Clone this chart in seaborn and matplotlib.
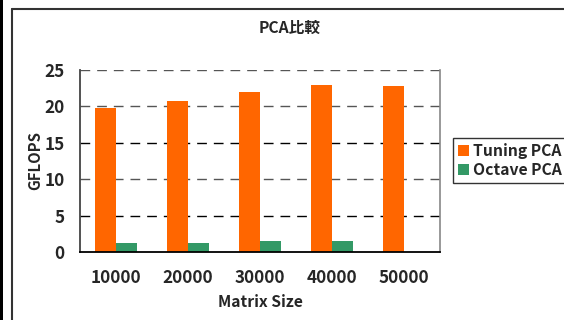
import numpy as np
import pandas as pd
import matplotlib
matplotlib.use("Agg")
import matplotlib.pyplot as plt
from matplotlib.lines import Line2D
from matplotlib.patches import Rectangle
import seaborn as sns

# Benchmark results (GFLOPS) per matrix size
sizes = ["10000", "20000", "30000", "40000", "50000"]
tuning_pca = [19.8, 20.7, 22.0, 22.9, 22.8]
octave_pca = [1.2, 1.2, 1.5, 1.5, np.nan]
series_names = ["Tuning PCA", "Octave PCA"]
colors = ["#FF6600", "#339966"]
y_ticks = [0, 5, 10, 15, 20, 25]

df = pd.DataFrame({
    "size": sizes * 2,
    "gflops": tuning_pca + octave_pca,
    "series": [series_names[0]] * len(sizes) + [series_names[1]] * len(sizes),
})

sns.set_theme(style="white")
plt.rcParams["font.family"] = ["Noto Sans CJK JP", "DejaVu Sans"]
plt.rcParams["font.weight"] = "bold"

W, H = 564, 320
fig = plt.figure(figsize=(W / 100, H / 100), dpi=100)
fig.patch.set_facecolor("white")

left, right, top, bottom = 80, 440, 70, 252
ax = fig.add_axes([left / W, 1 - bottom / H, (right - left) / W, (bottom - top) / H])

sns.barplot(data=df, x="size", y="gflops", hue="series", order=sizes,
            hue_order=series_names, palette=colors, width=0.58,
            saturation=1, linewidth=0, ax=ax, legend=False, errorbar=None)

ax.set_ylim(0, 25)
ax.set_xlim(-0.5, len(sizes) - 0.5)
ax.set_yticks(y_ticks)
ax.set_yticklabels([str(t) for t in y_ticks], fontsize=12.3, fontweight="bold")
ax.tick_params(axis="y", length=0, pad=11)

# category boundaries as inward ticks on the x axis
ax.set_xticks(np.arange(len(sizes)))
ax.set_xticklabels(sizes, fontsize=12.3, fontweight="bold")
ax.tick_params(axis="x", length=0, pad=12)
ax.set_xticks(np.arange(0.5, len(sizes) - 0.5, 1), minor=True)
ax.tick_params(axis="x", which="minor", direction="in", length=5, width=1, color="black")

for v in y_ticks[1:]:
    ax.axhline(v, color="#555555" if v in (10, 20, 25) else "black",
               lw=1, dashes=(7, 5), zorder=0)

ax.set_xlabel("Matrix Size", fontsize=11.3, fontweight="bold", labelpad=5)
ax.set_ylabel("GFLOPS", fontsize=10.8, fontweight="bold", labelpad=1)

for s in ax.spines.values():
    s.set_visible(True)
ax.spines["top"].set_visible(False)
ax.spines["left"].set_color("#444444")
ax.spines["left"].set_linewidth(1.3)
ax.spines["bottom"].set_color("black")
ax.spines["bottom"].set_linewidth(1.3)
ax.spines["right"].set_color("#888888")
ax.spines["right"].set_linewidth(1.2)

fig.text(290 / W, 1 - 28 / H, "PCA比較", ha="center", va="center",
         fontsize=11.3, fontweight="bold")

handles = [Rectangle((0, 0), 1, 1, facecolor=c, edgecolor="none") for c in colors]
leg = fig.legend(handles, series_names, loc="upper left",
                 bbox_to_anchor=(453 / W, 1 - 138 / H),
                 prop={"size": 11.3, "weight": "bold"},
                 frameon=True, fancybox=False, handlelength=0.7,
                 handleheight=0.7, handletextpad=0.25, labelspacing=0.2,
                 borderpad=0.3, borderaxespad=0)
leg.get_frame().set_edgecolor("black")
leg.get_frame().set_linewidth(1)

# outer chart frame
fig.add_artist(Rectangle((0, 0), 3 / W, 1, transform=fig.transFigure,
                         facecolor="black", edgecolor="none"))
fig.add_artist(Line2D([11.5 / W, 11.5 / W], [0, 1 - 8.5 / H],
                      transform=fig.transFigure, color="#333333", lw=1.5))
fig.add_artist(Line2D([11.5 / W, 1], [1 - 8.5 / H, 1 - 8.5 / H],
                      transform=fig.transFigure, color="#333333", lw=1.5))

fig.savefig("out.png", dpi=100)
